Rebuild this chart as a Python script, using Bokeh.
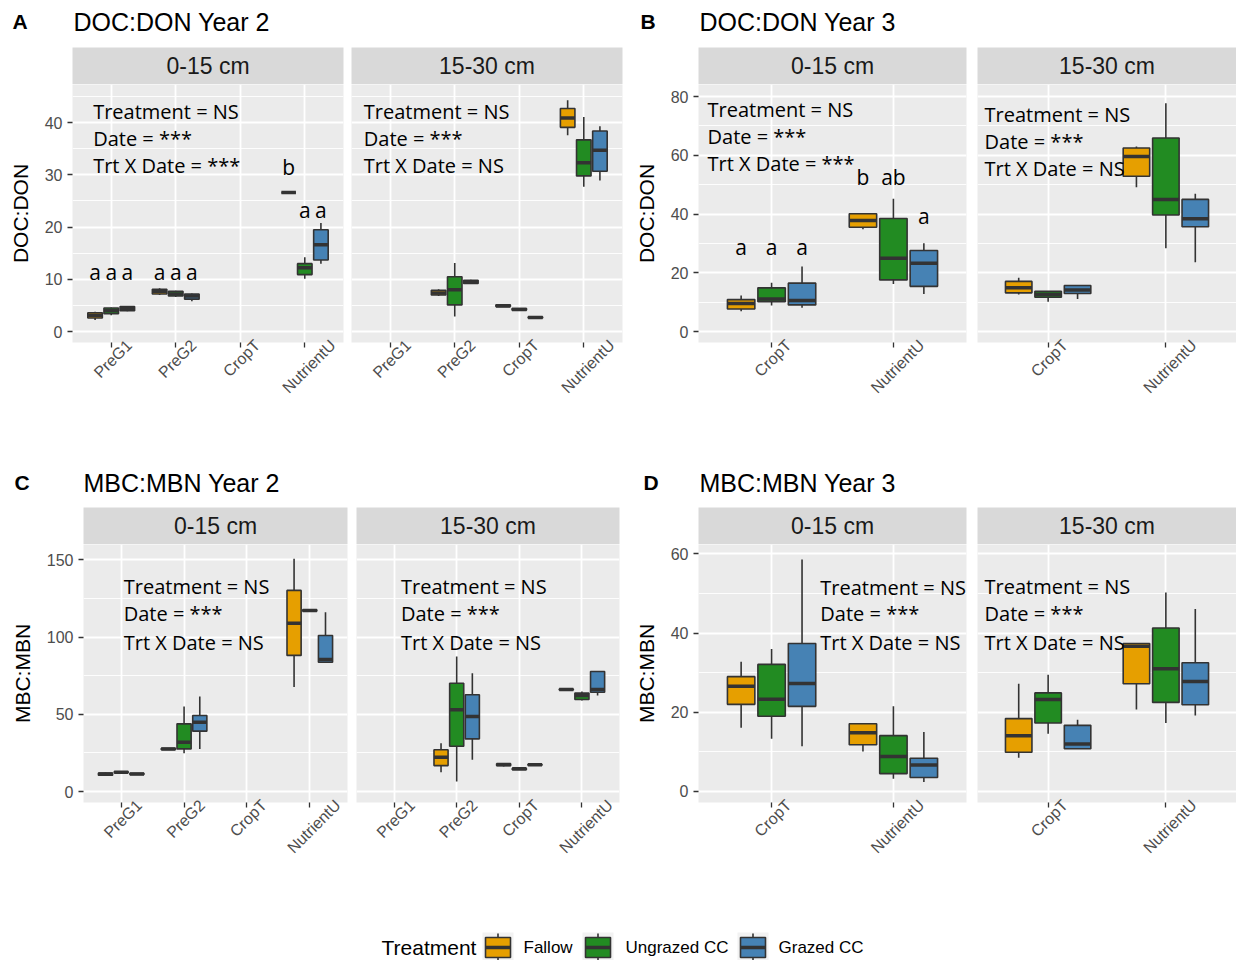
from math import pi
from bokeh.plotting import figure
from bokeh.layouts import column, row
from bokeh.models import ColumnDataSource, Range1d, FixedTicker, LinearAxis, CustomLabelingPolicy
from bokeh.core.properties import value
from bokeh.embed import file_html
from bokeh.resources import INLINE

# ---------------- data ----------------
TREATMENTS = ["Fallow", "Ungrazed CC", "Grazed CC"]
COLORS = ["#E69F00", "#228B22", "#4682B4"]

CATS_YEAR2 = ["PreG1", "PreG2", "CropT", "NutrientU"]
CATS_YEAR3 = ["CropT", "NutrientU"]

# box summaries per category: [lower whisker, Q1, median, Q3, upper whisker]; None = no data
DOC_Y2_0_15 = {
    "Fallow":      [[2.2, 2.6, 3.1, 3.6, 3.8], [7.0, 7.2, 7.7, 8.1, 8.3], None, [26.6, 26.6, 26.6, 26.6, 26.6]],
    "Ungrazed CC": [[3.1, 3.4, 4.0, 4.5, 4.6], [6.6, 6.8, 7.2, 7.7, 7.8], None, [10.1, 10.9, 12.2, 13.0, 14.2]],
    "Grazed CC":   [[3.9, 4.0, 4.4, 4.8, 4.9], [5.8, 6.2, 6.8, 7.2, 7.3], None, [13.0, 13.7, 16.6, 19.5, 20.8]],
}
DOC_Y2_15_30 = {
    "Fallow":      [None, [6.8, 7.0, 7.4, 7.9, 8.1], [4.7, 4.8, 4.9, 5.1, 5.2], [37.6, 39.1, 40.9, 42.7, 44.3]],
    "Ungrazed CC": [None, [2.9, 5.1, 8.0, 10.5, 13.1], [4.0, 4.1, 4.2, 4.4, 4.5], [27.7, 29.8, 32.3, 36.7, 41.1]],
    "Grazed CC":   [None, [9.1, 9.2, 9.5, 9.8, 9.9], [2.5, 2.6, 2.7, 2.8, 2.9], [28.9, 30.7, 34.7, 38.4, 39.3]],
}
DOC_Y3_0_15 = {
    "Fallow":      [[6.9, 7.7, 9.6, 10.9, 12.3], [34.8, 35.5, 37.8, 40.1, 40.2]],
    "Ungrazed CC": [[8.9, 10.2, 11.1, 14.9, 16.6], [16.2, 17.6, 25.0, 38.5, 45.2]],
    "Grazed CC":   [[8.1, 9.1, 10.6, 16.5, 22.2], [12.8, 15.4, 23.3, 27.6, 30.1]],
}
DOC_Y3_15_30 = {
    "Fallow":      [[12.6, 13.2, 14.9, 17.1, 18.3], [49.1, 52.9, 59.6, 62.5, 63.0]],
    "Ungrazed CC": [[10.2, 11.7, 12.6, 13.7, 13.8], [28.4, 39.7, 45.0, 65.9, 77.7]],
    "Grazed CC":   [[11.1, 13.0, 14.2, 15.7, 15.8], [23.6, 35.7, 38.4, 45.0, 46.9]],
}
MBC_Y2_0_15 = {
    "Fallow":      [[10.2, 10.6, 11.4, 12.0, 12.3], [27.0, 27.3, 27.6, 28.0, 28.2], None, [67.6, 88.1, 109.0, 130.2, 150.7]],
    "Ungrazed CC": [[12.1, 12.3, 12.5, 12.8, 13.0], [24.8, 27.6, 31.9, 43.8, 55.0], None, [116.5, 116.8, 117.2, 117.6, 118.0]],
    "Grazed CC":   [[10.8, 11.0, 11.4, 11.8, 12.0], [27.6, 39.1, 44.9, 49.2, 61.5], None, [83.7, 83.7, 85.5, 101.0, 116.1]],
}
MBC_Y2_15_30 = {
    "Fallow":      [None, [12.5, 16.8, 22.2, 27.0, 31.3], [16.2, 16.8, 17.5, 18.0, 18.3], [65.6, 65.8, 66.0, 66.3, 66.5]],
    "Ungrazed CC": [None, [6.5, 29.3, 52.9, 70.1, 87.4], [14.0, 14.2, 14.7, 15.0, 15.2], [59.0, 59.6, 62.2, 63.7, 64.8]],
    "Grazed CC":   [None, [20.5, 34.1, 48.6, 62.6, 76.6], [16.9, 17.0, 17.3, 17.6, 17.8], [62.2, 64.3, 66.0, 77.7, 78.0]],
}
MBC_Y3_0_15 = {
    "Fallow":      [[16.1, 22.0, 26.6, 29.0, 32.8], [10.1, 11.8, 14.8, 17.1, 17.2]],
    "Ungrazed CC": [[13.3, 19.0, 23.3, 32.1, 36.0], [3.2, 4.5, 8.8, 14.1, 21.5]],
    "Grazed CC":   [[11.4, 21.5, 27.3, 37.4, 58.6], [2.4, 3.5, 6.7, 8.4, 15.0]],
}
MBC_Y3_15_30 = {
    "Fallow":      [[8.5, 9.9, 14.1, 18.4, 27.2], [20.7, 27.2, 36.7, 37.4, 37.5]],
    "Ungrazed CC": [[14.6, 17.3, 23.2, 24.9, 29.5], [17.3, 22.5, 31.0, 41.3, 50.3]],
    "Grazed CC":   [[10.7, 10.8, 12.0, 16.7, 18.1], [19.2, 21.9, 27.8, 32.5, 46.1]],
}

NOTES_TTT = ["Treatment = NS", "Date = ***", "Trt X Date = ***"]
NOTES_TTN = ["Treatment = NS", "Date = ***", "Trt X Date = NS"]

# significance letters: (category, dodge slot, y, letter)
LETTERS_DOC_Y2 = [("PreG1", -1, 11.4, "a"), ("PreG1", 0, 11.4, "a"), ("PreG1", 1, 11.4, "a"),
                  ("PreG2", -1, 11.4, "a"), ("PreG2", 0, 11.4, "a"), ("PreG2", 1, 11.4, "a"),
                  ("NutrientU", -1, 31.5, "b"), ("NutrientU", 0, 23.2, "a"), ("NutrientU", 1, 23.2, "a")]
LETTERS_DOC_Y3 = [("CropT", -1, 28.7, "a"), ("CropT", 0, 28.7, "a"), ("CropT", 1, 28.7, "a"),
                  ("NutrientU", -1, 52.5, "b"), ("NutrientU", 0, 52.5, "ab"), ("NutrientU", 1, 39.5, "a")]

# ---------------- style ----------------
FONT = "Liberation Sans"
NOTE_FONT = "Open Sans"
BG = "#EBEBEB"
STRIP = "#D9D9D9"
EDGE = "#333333"
DODGE = 0.25
BOX_W = 0.225
LABEL_SHIFT_PX = {"PreG1": 18, "PreG2": 18, "CropT": 17, "NutrientU": 28}

HIDE_ALL = CustomLabelingPolicy(code="for (const i of indices) indices.unset(i)\nreturn indices")


def facet(cats, data, yr, ticks, minor, width, bl, br, height, bb,
          ylabel=None, notes=None, letters=None):
    n = len(cats)
    p = figure(width=width, height=height, x_range=Range1d(0.4, n + 0.6), y_range=Range1d(*yr),
               toolbar_location=None, output_backend="svg",
               min_border_left=bl, min_border_right=br, min_border_top=0, min_border_bottom=bb)
    p.background_fill_color = BG
    p.border_fill_color = "white"
    p.outline_line_color = None

    # x: tick-mark axis + rotated label axis
    ax = p.xaxis[0]
    ax.ticker = FixedTicker(ticks=[i + 1 for i in range(n)])
    ax.axis_line_color = None
    ax.major_tick_line_color = EDGE
    ax.major_tick_line_width = 1.3
    ax.major_tick_out = 5
    ax.major_tick_in = 0
    ax.minor_tick_line_color = None
    ax.major_label_text_font_size = "0px"
    ax.major_label_policy = HIDE_ALL
    ax.major_label_standoff = 0
    p.xgrid.grid_line_color = "white"
    p.xgrid.grid_line_width = 1.8

    ppu = (width - bl - br) / (n + 0.2)
    lab_ticks = [round(i + 1 + LABEL_SHIFT_PX[c] / ppu, 4) for i, c in enumerate(cats)]
    lab = LinearAxis(ticker=FixedTicker(ticks=lab_ticks),
                     major_label_overrides={t: c for t, c in zip(lab_ticks, cats)},
                     major_label_orientation=pi / 4,
                     axis_line_color=None, major_tick_line_color=None, minor_tick_line_color=None,
                     major_tick_out=0, major_tick_in=0, major_label_standoff=-5,
                     major_label_text_font=FONT, major_label_text_font_size="16px",
                     major_label_text_color="#4D4D4D")
    p.add_layout(lab, "below")

    # y
    ay = p.yaxis[0]
    ay.ticker = FixedTicker(ticks=ticks, minor_ticks=minor)
    p.ygrid.grid_line_color = "white"
    p.ygrid.grid_line_width = 1.8
    p.ygrid.minor_grid_line_color = "white"
    p.ygrid.minor_grid_line_width = 0.9
    if ylabel:
        ay.axis_label = ylabel
        ay.axis_label_text_font = FONT
        ay.axis_label_text_font_size = "21px"
        ay.axis_label_text_font_style = "normal"
        ay.axis_label_text_color = "black"
        ay.axis_label_standoff = 10
        ay.axis_line_color = None
        ay.major_tick_line_color = EDGE
        ay.major_tick_line_width = 1.3
        ay.major_tick_out = 5
        ay.major_tick_in = 0
        ay.minor_tick_line_color = None
        ay.major_label_standoff = 5
        ay.major_label_text_font = FONT
        ay.major_label_text_font_size = "16px"
        ay.major_label_text_color = "#4D4D4D"
    else:
        ay.visible = False

    # boxes
    cols = {k: [] for k in ["x", "xl", "xr", "lo", "q1", "med", "q3", "hi", "color"]}
    for j, (t, c) in enumerate(zip(TREATMENTS, COLORS)):
        for i, s in enumerate(data[t]):
            if s is None:
                continue
            x = i + 1 + (j - 1) * DODGE
            cols["x"].append(x)
            cols["xl"].append(x - BOX_W / 2)
            cols["xr"].append(x + BOX_W / 2)
            for k, v in zip(["lo", "q1", "med", "q3", "hi"], s):
                cols[k].append(v)
            cols["color"].append(c)
    src = ColumnDataSource(cols)
    p.segment(x0="x", y0="q3", x1="x", y1="hi", line_color=EDGE, line_width=1.6, source=src)
    p.segment(x0="x", y0="lo", x1="x", y1="q1", line_color=EDGE, line_width=1.6, source=src)
    p.vbar(x="x", width=BOX_W, bottom="q1", top="q3", fill_color="color",
           line_color=EDGE, line_width=1.6, source=src)
    p.segment(x0="xl", y0="med", x1="xr", y1="med", line_color=EDGE, line_width=3.5, source=src)

    if notes:
        (cat, off), ys, lines = notes
        nx = cats.index(cat) + 1 + off
        p.text(x=[nx] * len(lines), y=ys, text=lines, text_font=value(NOTE_FONT),
               text_font_size="20px", text_align="left", text_baseline="middle", text_color="black")
    if letters:
        lx = [cats.index(c) + 1 + s * DODGE for c, s, _, _ in letters]
        ly = [y for _, _, y, _ in letters]
        lt = [t for _, _, _, t in letters]
        p.text(x=lx, y=ly, text=lt, text_font=value(NOTE_FONT), text_font_size="21px",
               text_align="center", text_baseline="middle", text_color="black")
    return p


def strip(label, width, bl, br):
    p = figure(width=width, height=37, x_range=Range1d(0, 1), y_range=Range1d(0, 1),
               x_axis_location=None, y_axis_location=None, toolbar_location=None,
               output_backend="svg", min_border_left=bl, min_border_right=br,
               min_border_top=0, min_border_bottom=0)
    p.grid.visible = False
    p.background_fill_color = STRIP
    p.border_fill_color = "white"
    p.outline_line_color = None
    p.text(x=[0.5], y=[0.5], text=[label], text_font=value(FONT), text_font_size="23px",
           text_align="center", text_baseline="middle", text_color="#1A1A1A")
    return p


def header(letter, title, width, height, cy, lx, tx):
    p = figure(width=width, height=height, x_range=Range1d(0, width), y_range=Range1d(height, 0),
               x_axis_location=None, y_axis_location=None, toolbar_location=None,
               output_backend="svg", min_border=0)
    p.grid.visible = False
    p.background_fill_color = "white"
    p.border_fill_color = "white"
    p.outline_line_color = None
    p.text(x=[lx], y=[cy], text=[letter], text_font=value(FONT), text_font_size="21px",
           text_font_style="bold", text_align="left", text_baseline="middle", text_color="black")
    p.text(x=[tx], y=[cy], text=[title], text_font=value(FONT), text_font_size="25px",
           text_align="left", text_baseline="middle", text_color="black")
    return p


def legend(width):
    h = 30
    p = figure(width=width, height=h, x_range=Range1d(0, width), y_range=Range1d(h, 0),
               x_axis_location=None, y_axis_location=None, toolbar_location=None,
               output_backend="svg", min_border=0)
    p.grid.visible = False
    p.background_fill_color = "white"
    p.border_fill_color = "white"
    p.outline_line_color = None
    cy = 17
    p.text(x=[381], y=[cy], text=["Treatment"], text_font=value(FONT), text_font_size="21px",
           text_align="left", text_baseline="middle", text_color="black")
    key_x = [482, 582, 737]
    text_x = [523, 625, 778]
    kx1 = [k + 31 for k in key_x]
    bx0 = [k + 3 for k in key_x]
    bx1 = [k + 28 for k in key_x]
    bxc = [k + 15.5 for k in key_x]
    p.quad(left=key_x, right=kx1, top=[2] * 3, bottom=[h + 5] * 3, fill_color="#F2F2F2", line_color=None)
    p.segment(x0=bxc, y0=[3] * 3, x1=bxc, y1=[h + 5] * 3, line_color=EDGE, line_width=1.6)
    p.quad(left=bx0, right=bx1, top=[cy - 10] * 3, bottom=[cy + 10] * 3, fill_color=COLORS,
           line_color=EDGE, line_width=1.6)
    p.segment(x0=bx0, y0=[cy] * 3, x1=bx1, y1=[cy] * 3, line_color=EDGE, line_width=3.5)
    p.text(x=text_x, y=[cy] * 3, text=TREATMENTS, text_font=value(FONT), text_font_size="17px",
           text_align="left", text_baseline="middle", text_color="black")
    return p


H1, BB1 = 384, 126
H2, BB2 = 386, 128

A1 = facet(CATS_YEAR2, DOC_Y2_0_15, (-2.1, 47.3), [0, 10, 20, 30, 40], [5, 15, 25, 35, 45],
           347, 72, 4, H1, BB1, ylabel="DOC:DON",
           notes=(("PreG1", -0.28), [42.2, 37.0, 31.8], NOTES_TTT), letters=LETTERS_DOC_Y2)
A2 = facet(CATS_YEAR2, DOC_Y2_15_30, (-2.1, 47.3), [0, 10, 20, 30, 40], [5, 15, 25, 35, 45],
           283, 4, 8, H1, BB1,
           notes=(("PreG1", -0.41), [42.2, 37.0, 31.8], NOTES_TTN))
B1 = facet(CATS_YEAR3, DOC_Y3_0_15, (-3.7, 84.1), [0, 20, 40, 60, 80], [10, 30, 50, 70],
           341, 68, 5, H1, BB1, ylabel="DOC:DON",
           notes=(("CropT", -0.526), [75.6, 66.4, 57.1], NOTES_TTT), letters=LETTERS_DOC_Y3)
B2 = facet(CATS_YEAR3, DOC_Y3_15_30, (-3.7, 84.1), [0, 20, 40, 60, 80], [10, 30, 50, 70],
           265, 6, 0, H1, BB1,
           notes=(("CropT", -0.54), [74.0, 64.8, 55.6], NOTES_TTN))
C1 = facet(CATS_YEAR2, MBC_Y2_0_15, (-7.1, 159.9), [0, 50, 100, 150], [25, 75, 125],
           351, 83, 4, H2, BB2, ylabel="MBC:MBN",
           notes=(("PreG1", 0.04), [132.7, 115.0, 96.7], NOTES_TTN))
C2 = facet(CATS_YEAR2, MBC_Y2_15_30, (-7.1, 159.9), [0, 50, 100, 150], [25, 75, 125],
           280, 5, 12, H2, BB2,
           notes=(("PreG1", 0.11), [132.7, 115.0, 96.7], NOTES_TTN))
D1 = facet(CATS_YEAR3, MBC_Y3_0_15, (-2.8, 62.4), [0, 20, 40, 60], [10, 30, 50],
           340, 67, 5, H2, BB2, ylabel="MBC:MBN",
           notes=(("CropT", 0.40), [51.6, 44.9, 37.7], NOTES_TTN))
D2 = facet(CATS_YEAR3, MBC_Y3_15_30, (-2.8, 62.4), [0, 20, 40, 60], [10, 30, 50],
           265, 6, 0, H2, BB2,
           notes=(("CropT", -0.54), [51.8, 44.9, 37.7], NOTES_TTN))

layout = column(
    row(header("A", "DOC:DON Year 2", 630, 47, 21, 12, 73),
        header("B", "DOC:DON Year 3", 606, 47, 21, 10, 69)),
    row(strip("0-15 cm", 347, 72, 4), strip("15-30 cm", 283, 4, 8),
        strip("0-15 cm", 341, 68, 5), strip("15-30 cm", 265, 6, 0)),
    row(A1, A2, B1, B2),
    row(header("C", "MBC:MBN Year 2", 631, 39, 14, 14, 83),
        header("D", "MBC:MBN Year 3", 605, 39, 14, 12, 68)),
    row(strip("0-15 cm", 351, 83, 4), strip("15-30 cm", 280, 5, 12),
        strip("0-15 cm", 340, 67, 5), strip("15-30 cm", 265, 6, 0)),
    row(C1, C2, D1, D2),
    legend(1236),
)

open("out.html", "w").write(file_html(layout, INLINE))
